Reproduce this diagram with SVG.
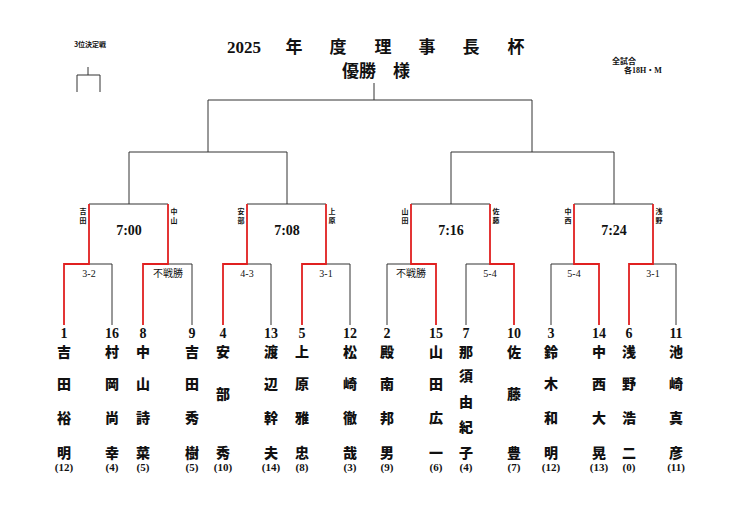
<svg xmlns="http://www.w3.org/2000/svg" width="730" height="515" viewBox="0 0 730 515">
<style>
.k{stroke:#333;stroke-width:1;fill:none}
.r{stroke:#e02020;stroke-width:1.8;fill:none}
text{font-family:"Liberation Serif","Noto Sans CJK JP",serif;fill:#111;font-weight:bold;text-anchor:middle}
.n{font-size:14px}
.c{font-size:14px;font-family:"Noto Sans CJK JP",sans-serif;font-weight:900}
.p{font-size:11px}
.s{font-size:10px;font-weight:normal}
.t{font-size:14px}
.h{font-size:17px;font-family:"Noto Sans CJK JP",sans-serif}
.v{font-size:7px;font-family:"Noto Sans CJK JP",sans-serif}
</style>
<rect width="730" height="515" fill="#fff"/>
<g id="header">
<text x="90" y="47" style="font-size:7px;font-family:'Noto Sans CJK JP',sans-serif">3位決定戦</text>
<path class="k" d="M88 67V75M77 92V75H100V92"/>
<text x="244" y="53" style="font-size:17px;font-family:'Liberation Serif',serif">2025</text>
<text class="h" x="294" y="53">年</text>
<text class="h" x="338" y="53">度</text>
<text class="h" x="383" y="53">理</text>
<text class="h" x="427" y="53">事</text>
<text class="h" x="471" y="53">長</text>
<text class="h" x="516" y="53">杯</text>
<text class="h" x="376" y="77">優勝　様</text>
<text x="612" y="64" style="font-size:8px;text-anchor:start;font-family:'Noto Sans CJK JP',sans-serif">全試合</text>
<text x="624" y="73" style="font-size:8px;text-anchor:start">各18H・M</text>
</g>
<g id="connectors">
<path class="k" d="M374 83V100M208 100H532M208 100V152M532 100V152M129 152H287M129 152V204M287 152V204M451 152H614M451 152V204M614 152V204"/>
<path class="k" d="M89 204H168M247 204H326M411 204H490M574 204H653"/>
<path class="k" d="M89 264H112V325M168 264H192V325M247 264H271V325M326 264H350V325M387 325V264H411M466 325V264H490M551 325V264H574M653 264H676V325"/>
<path class="r" d="M64 325V264H89V204M143 325V264H168V204M223 325V264H247V204M302 325V264H326V204M436 325V264H411V204M514 325V264H490V204M599 325V264H574V204M629 325V264H653V204"/>
</g>
<g id="labels">
<text class="v" x="83" y="214">吉</text><text class="v" x="83" y="223">田</text>
<text class="v" x="174" y="214">中</text><text class="v" x="174" y="223">山</text>
<text class="v" x="241" y="214">安</text><text class="v" x="241" y="223">部</text>
<text class="v" x="332" y="214">上</text><text class="v" x="332" y="223">原</text>
<text class="v" x="405" y="214">山</text><text class="v" x="405" y="223">田</text>
<text class="v" x="496" y="214">佐</text><text class="v" x="496" y="223">藤</text>
<text class="v" x="568" y="214">中</text><text class="v" x="568" y="223">西</text>
<text class="v" x="659" y="214">浅</text><text class="v" x="659" y="223">野</text>
<text class="t" x="129" y="235">7:00</text>
<text class="t" x="287" y="235">7:08</text>
<text class="t" x="451" y="235">7:16</text>
<text class="t" x="614" y="235">7:24</text>
<text class="s" x="89" y="277">3-2</text>
<text class="s" x="168" y="277">不戦勝</text>
<text class="s" x="247" y="277">4-3</text>
<text class="s" x="326" y="277">3-1</text>
<text class="s" x="411" y="277">不戦勝</text>
<text class="s" x="490" y="277">5-4</text>
<text class="s" x="574" y="277">5-4</text>
<text class="s" x="653" y="277">3-1</text>
</g>
<g id="p1"><text class="n" x="64" y="338">1</text><text class="c" x="64" y="357">吉</text><text class="c" x="64" y="389">田</text><text class="c" x="64" y="423">裕</text><text class="c" x="64" y="458">明</text><text class="p" x="64" y="471">(12)</text></g>
<g id="p16"><text class="n" x="112" y="338">16</text><text class="c" x="112" y="357">村</text><text class="c" x="112" y="389">岡</text><text class="c" x="112" y="423">尚</text><text class="c" x="112" y="458">幸</text><text class="p" x="112" y="471">(4)</text></g>
<g id="p8"><text class="n" x="143" y="338">8</text><text class="c" x="143" y="357">中</text><text class="c" x="143" y="389">山</text><text class="c" x="143" y="423">詩</text><text class="c" x="143" y="458">菜</text><text class="p" x="143" y="471">(5)</text></g>
<g id="p9"><text class="n" x="192" y="338">9</text><text class="c" x="192" y="357">吉</text><text class="c" x="192" y="389">田</text><text class="c" x="192" y="423">秀</text><text class="c" x="192" y="458">樹</text><text class="p" x="192" y="471">(5)</text></g>
<g id="p4"><text class="n" x="223" y="338">4</text><text class="c" x="223" y="357">安</text><text class="c" x="223" y="399">部</text><text class="c" x="223" y="458">秀</text><text class="p" x="223" y="471">(10)</text></g>
<g id="p13"><text class="n" x="271" y="338">13</text><text class="c" x="271" y="357">渡</text><text class="c" x="271" y="389">辺</text><text class="c" x="271" y="423">幹</text><text class="c" x="271" y="458">夫</text><text class="p" x="271" y="471">(14)</text></g>
<g id="p5"><text class="n" x="302" y="338">5</text><text class="c" x="302" y="357">上</text><text class="c" x="302" y="389">原</text><text class="c" x="302" y="423">雅</text><text class="c" x="302" y="458">忠</text><text class="p" x="302" y="471">(8)</text></g>
<g id="p12"><text class="n" x="350" y="338">12</text><text class="c" x="350" y="357">松</text><text class="c" x="350" y="389">崎</text><text class="c" x="350" y="423">徹</text><text class="c" x="350" y="458">哉</text><text class="p" x="350" y="471">(3)</text></g>
<g id="p2"><text class="n" x="387" y="338">2</text><text class="c" x="387" y="357">殿</text><text class="c" x="387" y="389">南</text><text class="c" x="387" y="423">邦</text><text class="c" x="387" y="458">男</text><text class="p" x="387" y="471">(9)</text></g>
<g id="p15"><text class="n" x="436" y="338">15</text><text class="c" x="436" y="357">山</text><text class="c" x="436" y="389">田</text><text class="c" x="436" y="423">広</text><text class="c" x="436" y="458">一</text><text class="p" x="436" y="471">(6)</text></g>
<g id="p7"><text class="n" x="466" y="338">7</text><text class="c" x="466" y="357">那</text><text class="c" x="466" y="381">須</text><text class="c" x="466" y="407">由</text><text class="c" x="466" y="432">紀</text><text class="c" x="466" y="458">子</text><text class="p" x="466" y="471">(4)</text></g>
<g id="p10"><text class="n" x="514" y="338">10</text><text class="c" x="514" y="357">佐</text><text class="c" x="514" y="399">藤</text><text class="c" x="514" y="458">豊</text><text class="p" x="514" y="471">(7)</text></g>
<g id="p3"><text class="n" x="551" y="338">3</text><text class="c" x="551" y="357">鈴</text><text class="c" x="551" y="389">木</text><text class="c" x="551" y="423">和</text><text class="c" x="551" y="458">明</text><text class="p" x="551" y="471">(12)</text></g>
<g id="p14"><text class="n" x="599" y="338">14</text><text class="c" x="599" y="357">中</text><text class="c" x="599" y="389">西</text><text class="c" x="599" y="423">大</text><text class="c" x="599" y="458">晃</text><text class="p" x="599" y="471">(13)</text></g>
<g id="p6"><text class="n" x="629" y="338">6</text><text class="c" x="629" y="357">浅</text><text class="c" x="629" y="389">野</text><text class="c" x="629" y="423">浩</text><text class="c" x="629" y="458">二</text><text class="p" x="629" y="471">(0)</text></g>
<g id="p11"><text class="n" x="676" y="338">11</text><text class="c" x="676" y="357">池</text><text class="c" x="676" y="389">崎</text><text class="c" x="676" y="423">真</text><text class="c" x="676" y="458">彦</text><text class="p" x="676" y="471">(11)</text></g>
</svg>
